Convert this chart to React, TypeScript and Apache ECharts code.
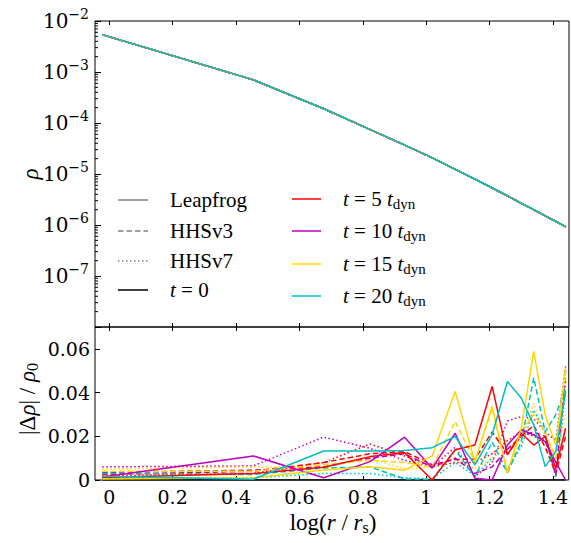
import React, { useEffect, useRef } from 'react';
import * as echarts from 'echarts';

// log(r / r_s) sample positions (bin centres)
const logR = [-0.0223, 0.4548, 0.6767, 0.8228, 0.932, 1.0191, 1.0917, 1.1538, 1.2082, 1.2565, 1.3, 1.3395, 1.3757, 1.4091, 1.4401];
// density at t = 0
const rho0 = [5.4e-3, 7.0e-4, 1.9e-4, 7.43e-5, 3.68e-5, 2.07e-5, 1.23e-5, 7.89e-6, 5.32e-6, 3.7e-6, 2.66e-6, 1.98e-6, 1.5e-6, 1.17e-6, 9.2e-7];

// |Δρ|/ρ0 — Leapfrog (solid)
const lfT5 = [0.0012, 0.003, 0.0058, 0.0107, 0.0125, 0.0, 0.0138, 0.016, 0.0428, 0.0115, 0.0214, 0.016, 0.0199, 0.0054, 0.0237];
const lfT10 = [0.0014, 0.011, 0.001, 0.0084, 0.0196, 0.0054, 0.0214, 0.0008, 0.0, 0.016, 0.023, 0.0207, 0.0176, 0.0082, 0.0];
const lfT15 = [0.0005, 0.001, 0.0046, 0.0061, 0.0045, 0.011, 0.0405, 0.0084, 0.0337, 0.0035, 0.0237, 0.0589, 0.0298, 0.016, 0.0513];
const lfT20 = [0.0017, 0.0004, 0.0133, 0.0133, 0.0135, 0.0148, 0.0199, 0.0069, 0.0207, 0.0451, 0.0375, 0.0252, 0.0061, 0.013, 0.0405];
// HHSv3 (dashed)
const h3T5 = [0.0025, 0.004, 0.008, 0.012, 0.013, 0.007, 0.0094, 0.0095, 0.022, 0.012, 0.02, 0.025, 0.015, 0.003, 0.02];
const h3T10 = [0.0035, 0.0045, 0.006, 0.01, 0.012, 0.006, 0.01, 0.003, 0.006, 0.014, 0.02, 0.022, 0.02, 0.002, 0.05];
const h3T15 = [0.004, 0.004, 0.007, 0.009, 0.008, 0.006, 0.0268, 0.0084, 0.0329, 0.0029, 0.022, 0.03, 0.022, 0.01, 0.05];
const h3T20 = [0.003, 0.0025, 0.0055, 0.006, 0.0005, 0.0003, 0.0138, 0.0015, 0.0174, 0.0034, 0.0174, 0.0467, 0.022, 0.0298, 0.0421];
// HHSv7 (dotted)
const h7T5 = [0.002, 0.003, 0.008, 0.0165, 0.011, 0.006, 0.008, 0.008, 0.012, 0.018, 0.022, 0.02, 0.018, 0.004, 0.045];
const h7T10 = [0.006, 0.0065, 0.0196, 0.0145, 0.009, 0.006, 0.015, 0.0015, 0.008, 0.027, 0.029, 0.028, 0.022, 0.018, 0.052];
const h7T15 = [0.005, 0.006, 0.006, 0.01, 0.005, 0.006, 0.01, 0.005, 0.01, 0.015, 0.018, 0.035, 0.02, 0.01, 0.03];
const h7T20 = [0.001, 0.001, 0.003, 0.003, 0.001, 0.0005, 0.008, 0.002, 0.01, 0.005, 0.015, 0.032, 0.022, 0.001, 0.04];
const zeroDiff = [0, 0, 0, 0, 0, 0, 0, 0, 0, 0, 0, 0, 0, 0, 0];

// ticks
const xTicks = [0, 0.2, 0.4, 0.6, 0.8, 1, 1.2, 1.4];
const xTickLabels = ['0', '0.2', '0.4', '0.6', '0.8', '1', '1.2', '1.4'];
const rhoMajor = [1e-8, 1e-7, 1e-6, 1e-5, 1e-4, 1e-3, 1e-2];
const rhoLabelVals = [1e-7, 1e-6, 1e-5, 1e-4, 1e-3, 1e-2];
const rhoMinorMant = [2, 3, 4, 5, 6, 7, 8, 9];
const diffTicks = [0, 0.02, 0.04, 0.06];
const diffTickLabels = ['0', '0.02', '0.04', '0.06'];

const timeNames = ['t = 5 t_dyn', 't = 10 t_dyn', 't = 15 t_dyn', 't = 20 t_dyn'];
const timeNums = ['5', '10', '15', '20'];
const colors = ['#ff0000', '#bf00bf', '#ffd700', '#00bfbf'];
const methods = ['Leapfrog', 'HHSv3', 'HHSv7'];

const FONT_TEXT = "'Liberation Serif', serif";
const FONT_NUM = "'DejaVu Serif', serif";
const X_MIN = -0.045;
const X_MAX = 1.45;

export default function App() {
  const ref = useRef<HTMLDivElement>(null);
  useEffect(() => {
    const chart = echarts.init(ref.current!, null, { renderer: 'svg' });

    const rhoMinor: number[] = [];
    for (let e = -8; e < -2; e++) {
      for (const m of rhoMinorMant) rhoMinor.push(m * Math.pow(10, e));
    }

    const dashFor: any = { Leapfrog: 'solid', HHSv3: [5.5, 3], HHSv7: [1.5, 2.5] };
    const diffSets: any = {
      Leapfrog: [lfT5, lfT10, lfT15, lfT20],
      HHSv3: [h3T5, h3T10, h3T15, h3T20],
      HHSv7: [h7T5, h7T10, h7T15, h7T20],
    };

    const series: any[] = [];
    // minor ticks of the log axis
    series.push({
      type: 'custom', xAxisIndex: 0, yAxisIndex: 0, silent: true, clip: false, z: 10,
      data: rhoMinor.map((v) => [X_MIN, v]),
      renderItem: (params: any, api: any) => {
        const p = api.coord([api.value(0), api.value(1)]);
        return {
          type: 'line',
          shape: { x1: p[0], y1: p[1], x2: p[0] + 3, y2: p[1] },
          style: { stroke: '#000', lineWidth: 1 },
        };
      },
    });
    // top panel
    series.push({
      type: 'line', name: 't = 0', xAxisIndex: 0, yAxisIndex: 0, symbol: 'none',
      lineStyle: { color: '#000', width: 1.5 }, data: logR.map((x, i) => [x, rho0[i]]),
    });
    const drawOrder = ['HHSv7', 'HHSv3', 'Leapfrog'];
    for (const m of drawOrder) {
      for (let t = 0; t < 4; t++) {
        series.push({
          type: 'line', name: m + ' ' + timeNames[t], xAxisIndex: 0, yAxisIndex: 0, symbol: 'none',
          lineStyle: { color: colors[t], width: 1.5, type: dashFor[m] },
          data: logR.map((x, i) => [x, rho0[i]]),
        });
      }
    }
    // bottom panel
    series.push({
      type: 'line', name: 't = 0 diff', xAxisIndex: 2, yAxisIndex: 1, symbol: 'none',
      lineStyle: { color: '#000', width: 1.5 }, data: logR.map((x, i) => [x, zeroDiff[i]]),
    });
    for (const m of drawOrder) {
      for (let t = 0; t < 4; t++) {
        const arr = diffSets[m][t];
        series.push({
          type: 'line', name: m + ' diff ' + timeNames[t], xAxisIndex: 2, yAxisIndex: 1, symbol: 'none',
          lineStyle: { color: colors[t], width: 1.5, type: dashFor[m] },
          data: logR.map((x, i) => [x, arr[i]]),
        });
      }
    }

    const xLabelFmt = (v: number) => {
      let best = 0;
      for (let i = 0; i < xTicks.length; i++) if (Math.abs(xTicks[i] - v) < Math.abs(xTicks[best] - v)) best = i;
      return xTickLabels[best];
    };
    const diffLabelFmt = (v: number) => {
      let best = 0;
      for (let i = 0; i < diffTicks.length; i++) if (Math.abs(diffTicks[i] - v) < Math.abs(diffTicks[best] - v)) best = i;
      return diffTickLabels[best];
    };

    const xAx = (gridIndex: number, position: string, showLabel: boolean) => ({
      type: 'value', gridIndex, position, min: X_MIN, max: X_MAX,
      axisLine: { show: false, onZero: false }, splitLine: { show: false },
      axisTick: { show: true, inside: true, length: 4, lineStyle: { color: '#000', width: 1 }, customValues: xTicks },
      axisLabel: {
        show: showLabel, customValues: xTicks, formatter: xLabelFmt,
        fontFamily: FONT_NUM, fontSize: 19, color: '#000', margin: 7,
      },
    });

    const tickStyle = { color: '#000', width: 1 };

    const txt = (x: number, y: number, text: string, rich: any, rotation = 0, align = 'left') => ({
      type: 'text', x, y, rotation, z: 100,
      style: { text, rich, fill: '#000', fontFamily: FONT_TEXT, fontSize: 21, align, verticalAlign: 'middle' },
    });

    const legendRich = {
      n: { fontFamily: FONT_TEXT, fontSize: 21, lineHeight: 24, color: '#000' },
      i: { fontFamily: FONT_TEXT, fontSize: 21, lineHeight: 24, fontStyle: 'italic', color: '#000' },
      s: { fontFamily: FONT_TEXT, fontSize: 15, lineHeight: 14, verticalAlign: 'bottom', color: '#000' },
    };
    const titleRich = {
      n: { fontFamily: FONT_TEXT, fontSize: 23, lineHeight: 26, color: '#000' },
      i: { fontFamily: FONT_TEXT, fontSize: 23, lineHeight: 26, fontStyle: 'italic', color: '#000' },
      s: { fontFamily: FONT_TEXT, fontSize: 16, lineHeight: 15, verticalAlign: 'bottom', color: '#000' },
    };

    const col1Y = [200, 231, 261, 290];
    const col2Y = [199, 231, 264, 296];
    const graphics: any[] = [];
    const grayDash: any[] = [null, [5.5, 3], [1.5, 2.5]];
    methods.forEach((m, k) => {
      graphics.push({
        type: 'line', z: 100, shape: { x1: 118, y1: col1Y[k], x2: 148, y2: col1Y[k] },
        style: { stroke: '#808080', lineWidth: 1.5, lineDash: grayDash[k] },
      });
      graphics.push(txt(170, col1Y[k], '{n|' + m + '}', legendRich));
    });
    graphics.push({
      type: 'line', z: 100, shape: { x1: 118, y1: col1Y[3], x2: 148, y2: col1Y[3] },
      style: { stroke: '#000', lineWidth: 1.5 },
    });
    graphics.push(txt(170, col1Y[3], '{i|t}{n| = 0}', legendRich));
    for (let t = 0; t < 4; t++) {
      graphics.push({
        type: 'line', z: 100, shape: { x1: 292, y1: col2Y[t], x2: 321, y2: col2Y[t] },
        style: { stroke: colors[t], lineWidth: 1.5 },
      });
      graphics.push(txt(343, col2Y[t], '{i|t}{n| = ' + timeNums[t] + ' }{i|t}{s|dyn}', legendRich));
    }
    // axis titles
    graphics.push(txt(30, 174, '{i|ρ}', titleRich, Math.PI / 2, 'center'));
    graphics.push(txt(27, 399, '{n||Δ}{i|ρ}{n|| / }{i|ρ}{s|0}', titleRich, Math.PI / 2, 'center'));
    graphics.push(txt(333, 522, '{n|log(}{i|r}{n| / }{i|r}{s|s}{n|)}', titleRich, 0, 'center'));

    const option: any = {
      animation: false,
      backgroundColor: '#fff',
      grid: [
        { left: 95, top: 21, width: 474, height: 306, show: true, borderColor: '#000', borderWidth: 1, backgroundColor: 'transparent' },
        { left: 95, top: 327, width: 474, height: 153, show: true, borderColor: '#000', borderWidth: 1, backgroundColor: 'transparent' },
      ],
      xAxis: [xAx(0, 'bottom', false), xAx(0, 'top', false), xAx(1, 'bottom', true), xAx(1, 'top', false)],
      yAxis: [
        {
          type: 'log', logBase: 10, gridIndex: 0, position: 'left', min: 1e-8, max: 1e-2,
          axisLine: { show: false, onZero: false }, splitLine: { show: false },
          axisTick: { show: true, inside: true, length: 6, lineStyle: tickStyle, customValues: rhoMajor },
          axisLabel: {
            customValues: rhoLabelVals, margin: 6,
            formatter: (v: number) => '{b|10}{s|−' + Math.round(-Math.log10(v)) + '}',
            rich: {
              b: { fontFamily: FONT_NUM, fontSize: 20, lineHeight: 28, color: '#000' },
              s: { fontFamily: FONT_NUM, fontSize: 14, lineHeight: 16, verticalAlign: 'top', color: '#000' },
            },
          },
        },
        {
          type: 'value', gridIndex: 1, position: 'left', min: 0, max: 0.07,
          axisLine: { show: false, onZero: false }, splitLine: { show: false },
          axisTick: { show: true, inside: true, length: 5, lineStyle: tickStyle, customValues: diffTicks },
          axisLabel: {
            customValues: diffTicks, formatter: diffLabelFmt, margin: 5,
            fontFamily: FONT_NUM, fontSize: 19, color: '#000',
          },
        },
      ],
      series,
      graphic: graphics,
    };
    chart.setOption(option);
    return () => chart.dispose();
  }, []);
  return <div ref={ref} style={{ position: 'fixed', left: 0, top: 0, width: 571, height: 543 }} />;
}
